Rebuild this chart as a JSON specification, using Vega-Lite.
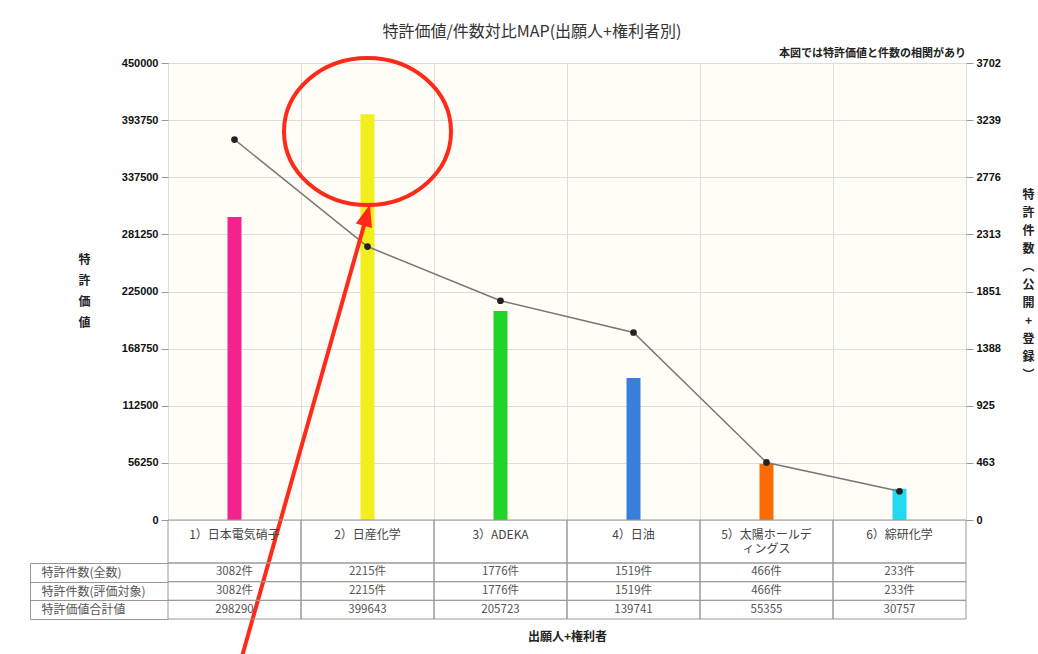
{
  "$schema": "https://vega.github.io/schema/vega-lite/v6.json",
  "background": "white",
  "padding": {"left": 29, "top": 23, "right": 2, "bottom": 0},
  "title": {"text": "特許価値/件数対比MAP(出願人+権利者別)", "fontSize": 16, "fontWeight": "normal", "color": "#333333", "anchor": "middle", "offset": 8, "font": "Noto Sans CJK JP"},
  "bounds": "flush",
  "spacing": 0,
  "datasets": {
    "main": [
      {"company": "1）日本電気硝子", "label": "1）日本電気硝子", "value": 298290, "count": 3082},
      {"company": "2）日産化学", "label": "2）日産化学", "value": 399643, "count": 2215},
      {"company": "3）ADEKA", "label": "3）ADEKA", "value": 205723, "count": 1776},
      {"company": "4）日油", "label": "4）日油", "value": 139741, "count": 1519},
      {"company": "5）太陽ホールディングス", "label": "5）太陽ホールデ\nィングス", "value": 55355, "count": 466},
      {"company": "6）綜研化学", "label": "6）綜研化学", "value": 30757, "count": 233}
    ],
    "table": [
      {"company": "1）日本電気硝子", "row": "特許件数(全数)", "text": "3082件"},
      {"company": "2）日産化学", "row": "特許件数(全数)", "text": "2215件"},
      {"company": "3）ADEKA", "row": "特許件数(全数)", "text": "1776件"},
      {"company": "4）日油", "row": "特許件数(全数)", "text": "1519件"},
      {"company": "5）太陽ホールディングス", "row": "特許件数(全数)", "text": "466件"},
      {"company": "6）綜研化学", "row": "特許件数(全数)", "text": "233件"},
      {"company": "1）日本電気硝子", "row": "特許件数(評価対象)", "text": "3082件"},
      {"company": "2）日産化学", "row": "特許件数(評価対象)", "text": "2215件"},
      {"company": "3）ADEKA", "row": "特許件数(評価対象)", "text": "1776件"},
      {"company": "4）日油", "row": "特許件数(評価対象)", "text": "1519件"},
      {"company": "5）太陽ホールディングス", "row": "特許件数(評価対象)", "text": "466件"},
      {"company": "6）綜研化学", "row": "特許件数(評価対象)", "text": "233件"},
      {"company": "1）日本電気硝子", "row": "特許価値合計値", "text": "298290"},
      {"company": "2）日産化学", "row": "特許価値合計値", "text": "399643"},
      {"company": "3）ADEKA", "row": "特許価値合計値", "text": "205723"},
      {"company": "4）日油", "row": "特許価値合計値", "text": "139741"},
      {"company": "5）太陽ホールディングス", "row": "特許価値合計値", "text": "55355"},
      {"company": "6）綜研化学", "row": "特許価値合計値", "text": "30757"}
    ],
    "ellipse": [
      {"company": "2）日産化学", "v": 382549}
    ],
    "arrow": [
      {"company": "1）日本電気硝子", "v": -160500},
      {"company": "2）日産化学", "v": 302298}
    ],
    "arrowhead": [
      {"company": "2）日産化学", "v": 302298}
    ]
  },
  "vconcat": [
    {
      "width": 798,
      "height": 457,
      "title": {"text": "本図では特許価値と件数の相関があり", "anchor": "end", "frame": "group", "fontSize": 11, "fontWeight": "bold", "offset": -9, "color": "#222222", "font": "Noto Sans CJK JP"},
      "view": {"fill": "#fffdf6", "stroke": "#aaaaaa"},
      "encoding": {
        "x": {
          "field": "company", "type": "nominal",
          "scale": {"domain": ["1）日本電気硝子", "2）日産化学", "3）ADEKA", "4）日油", "5）太陽ホールディングス", "6）綜研化学"], "paddingInner": 0, "paddingOuter": 0},
          "axis": {"title": null, "labels": false, "ticks": false, "domain": false, "grid": true, "tickBand": "extent", "gridColor": "#dddddd"}
        }
      },
      "layer": [
        {
          "data": {"name": "main"},
          "mark": {"type": "bar", "width": 14},
          "encoding": {
            "y": {
              "field": "value", "type": "quantitative",
              "scale": {"domain": [0, 450000], "nice": false, "zero": true},
              "axis": {
                "orient": "left",
                "values": [0, 56250, 112500, 168750, 225000, 281250, 337500, 393750, 450000],
                "format": "d",
                "grid": true, "gridColor": "#dddddd",
                "domain": false,
                "tickSize": 7, "tickColor": "#999999",
                "labelFont": "Liberation Sans", "labelFontSize": 11, "labelFontWeight": "bold", "labelColor": "#111111", "labelPadding": 3,
                "title": ["特", "許", "価", "値"],
                "titleAngle": 0, "titleAlign": "center", "titleBaseline": "middle", "titleX": -84, "titleY": 196,
                "titleFontSize": 12, "titleFontWeight": "bold", "titleLineHeight": 21, "titleColor": "#222222", "titleFont": "Noto Sans CJK JP"
              }
            },
            "color": {
              "field": "company", "type": "nominal",
              "scale": {"domain": ["1）日本電気硝子", "2）日産化学", "3）ADEKA", "4）日油", "5）太陽ホールディングス", "6）綜研化学"], "range": ["#f5228e", "#f2ef1c", "#22d32a", "#377fdb", "#fb6a03", "#22d9f2"]},
              "legend": null
            }
          }
        },
        {
          "data": {"name": "main"},
          "encoding": {
            "y": {
              "field": "count", "type": "quantitative",
              "scale": {"domain": [0, 3702], "nice": false, "zero": true},
              "axis": {
                "orient": "right",
                "values": [0, 463, 925, 1388, 1851, 2313, 2776, 3239, 3702],
                "format": "d",
                "grid": false, "domain": false,
                "tickSize": 7, "tickColor": "#999999",
                "labelFont": "Liberation Sans", "labelFontSize": 11, "labelFontWeight": "bold", "labelColor": "#111111", "labelPadding": 3,
                "title": ["特", "許", "件", "数", "︵", "公", "開", "+", "登", "録", "︶"],
                "titleAngle": 0, "titleAlign": "center", "titleBaseline": "middle", "titleX": 62, "titleY": 131,
                "titleFontSize": 12, "titleFontWeight": "bold", "titleLineHeight": 18, "titleColor": "#222222", "titleFont": "Noto Sans CJK JP"
              }
            }
          },
          "layer": [
            {"mark": {"type": "line", "color": "#777777", "strokeWidth": 1.5}},
            {"mark": {"type": "point", "filled": true, "color": "#222222", "size": 45, "opacity": 1}}
          ]
        },
        {
          "encoding": {
            "y": {
              "field": "v", "type": "quantitative",
              "scale": {"domain": [0, 450000], "nice": false, "zero": true},
              "axis": null
            }
          },
          "layer": [
            {
              "data": {"name": "ellipse"},
              "mark": {"type": "point", "shape": "M-1,0 A1,0.88 0 1,1 1,0 A1,0.88 0 1,1 -1,0 Z", "size": 27889, "filled": false, "stroke": "#ff2a1a", "strokeWidth": 4, "opacity": 1}
            },
            {
              "data": {"name": "arrow"},
              "mark": {"type": "line", "color": "#ff2a1a", "strokeWidth": 4}
            },
            {
              "data": {"name": "arrowhead"},
              "mark": {"type": "point", "shape": "M0,-0.4 L-0.38,0.6 L0.38,0.6 Z", "size": 1936, "filled": true, "color": "#ff2a1a", "angle": 15.8, "opacity": 1}
            }
          ]
        }
      ],
      "resolve": {"scale": {"y": "independent"}, "axis": {"y": "independent"}}
    },
    {
      "width": 798,
      "height": 43,
      "data": {"name": "main"},
      "view": {"stroke": null},
      "encoding": {
        "x": {
          "field": "company", "type": "nominal",
          "scale": {"domain": ["1）日本電気硝子", "2）日産化学", "3）ADEKA", "4）日油", "5）太陽ホールディングス", "6）綜研化学"], "paddingInner": 0, "paddingOuter": 0},
          "axis": null
        }
      },
      "layer": [
        {"mark": {"type": "rect", "filled": false, "stroke": "#999999", "strokeWidth": 1}},
        {"mark": {"type": "text", "baseline": "top", "dy": -12, "lineBreak": "\n", "fontSize": 12, "color": "#444444", "font": "Noto Sans CJK JP", "lineHeight": 14}, "encoding": {"text": {"field": "label"}}}
      ]
    },
    {
      "width": 798,
      "height": 56,
      "data": {"name": "table"},
      "view": {"stroke": null},
      "encoding": {
        "x": {
          "field": "company", "type": "nominal",
          "scale": {"domain": ["1）日本電気硝子", "2）日産化学", "3）ADEKA", "4）日油", "5）太陽ホールディングス", "6）綜研化学"], "paddingInner": 0, "paddingOuter": 0},
          "axis": {"title": "出願人+権利者", "labels": false, "ticks": false, "domain": false, "grid": false, "titleFontSize": 12, "titleFontWeight": "bold", "titlePadding": 12, "titleColor": "#222222", "titleFont": "Noto Sans CJK JP"}
        },
        "y": {
          "field": "row", "type": "nominal",
          "scale": {"domain": ["特許件数(全数)", "特許件数(評価対象)", "特許価値合計値"], "paddingInner": 0, "paddingOuter": 0},
          "axis": {"title": null, "tickBand": "extent", "offset": 138, "tickSize": -138, "domain": true, "domainColor": "#999999", "tickColor": "#999999", "labelAlign": "left", "labelPadding": 127, "labelFontSize": 12, "labelColor": "#555555", "labelFont": "Noto Sans CJK JP"}
        }
      },
      "layer": [
        {"mark": {"type": "rect", "filled": false, "stroke": "#999999", "strokeWidth": 1}},
        {"mark": {"type": "text", "fontSize": 11.5, "color": "#555555", "font": "Noto Sans CJK JP"}, "encoding": {"text": {"field": "text"}}}
      ]
    }
  ],
  "config": {"font": "Noto Sans CJK JP", "view": {"stroke": null}}
}
